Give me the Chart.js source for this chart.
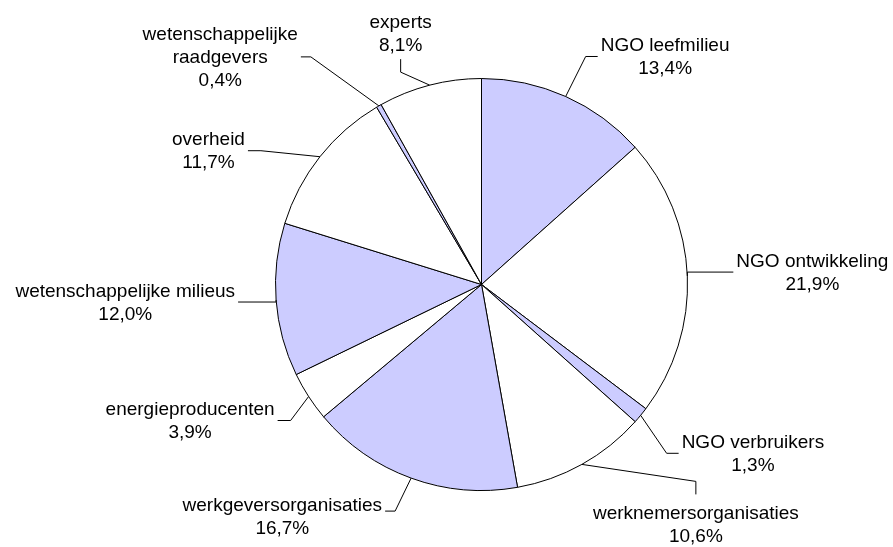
<!DOCTYPE html>
<html>
<head>
<meta charset="utf-8">
<script src="https://cdn.jsdelivr.net/npm/chart.js@4"></script>
<style>
  html, body { margin: 0; padding: 0; background: #fff; }
  #wrap { width: 893px; height: 547px; }
</style>
</head>
<body>
<div id="wrap"><canvas id="pie-chart"></canvas></div>
<script>
// Data

let categories = [
    ['NGO leefmilieu'],
    ['NGO ontwikkeling'],
    ['NGO verbruikers'],
    ['werknemersorganisaties'],
    ['werkgeversorganisaties'],
    ['energieproducenten'],
    ['wetenschappelijke milieus'],
    ['overheid'],
    ['wetenschappelijke', 'raadgevers'],
    ['experts']
];

let shares = [13.4, 21.9, 1.3, 10.6, 16.7, 3.9, 12.0, 11.7, 0.4, 8.1];

// Label layout: elbow offset from the slice edge, then a short tail

let labelLayout = [
    { dx: 20, dy: -40, tail: 'right', len: 12, shift: 0 },
    { dx: 0, dy: -4, tail: 'right', len: 46, shift: 0 },
    { dx: 26, dy: 38, tail: 'right', len: 12, shift: 0 },
    { dx: 114, dy: 17, tail: 'down', len: 13, shift: 2 },
    { dx: -16, dy: 33, tail: 'left', len: 10, shift: 5 },
    { dx: -18, dy: 24, tail: 'left', len: 13, shift: 0 },
    { dx: 0, dy: 2, tail: 'left', len: 38, shift: 0 },
    { dx: -59, dy: -6, tail: 'left', len: 13, shift: 0 },
    { dx: -68, dy: -49, tail: 'left', len: 10, shift: 0 },
    { dx: -29, dy: -13, tail: 'up', len: 13, shift: 2 }
];

let sliceColors = ['#ccccff', '#ffffff'];

function fmt(v) {
    return v.toFixed(1).replace('.', ',') + '%';
}

// Labels plugin

let outsideLabels = {
    id: 'outsideLabels',
    afterDatasetsDraw(chart) {
        let ctx = chart.ctx;
        let arcs = chart.getDatasetMeta(0).data;
        let lineH = 23;
        ctx.save();
        ctx.font = '19px "Liberation Sans", Arial, sans-serif';
        ctx.fillStyle = '#000';
        ctx.strokeStyle = '#000';
        ctx.lineWidth = 1;
        ctx.textAlign = 'center';
        ctx.textBaseline = 'middle';
        arcs.forEach((arc, i) => {
            let p = arc.getProps(['x', 'y', 'startAngle', 'endAngle', 'outerRadius'], true);
            let mid = (p.startAngle + p.endAngle) / 2;
            let ax = p.x + Math.cos(mid) * p.outerRadius;
            let ay = p.y + Math.sin(mid) * p.outerRadius;
            let lay = labelLayout[i];
            let ex = ax + lay.dx, ey = ay + lay.dy;
            let tx = ex, ty = ey;
            if (lay.tail === 'right') tx += lay.len;
            if (lay.tail === 'left') tx -= lay.len;
            if (lay.tail === 'up') ty -= lay.len;
            if (lay.tail === 'down') ty += lay.len;

            ctx.beginPath();
            ctx.moveTo(ax, ay);
            ctx.lineTo(ex, ey);
            ctx.lineTo(tx, ty);
            ctx.stroke();

            let lines = categories[i].concat([fmt(shares[i])]);
            let w = Math.max(...lines.map(s => ctx.measureText(s).width));
            let cx, cy;
            if (lay.tail === 'right') { cx = tx + 3 + w / 2; cy = ty - (lines.length - 1) * lineH / 2; }
            if (lay.tail === 'left') { cx = tx - 3 - w / 2; cy = ty - (lines.length - 1) * lineH / 2; }
            if (lay.tail === 'up') { cx = tx; cy = ty - 16 - (lines.length - 1) * lineH; }
            if (lay.tail === 'down') { cx = tx; cy = ty + 16; }
            cy += lay.shift;
            lines.forEach((s, k) => ctx.fillText(s, cx, cy + k * lineH + 1));
        });
        ctx.restore();
    }
};

let ctx = document.getElementById('pie-chart').getContext('2d');

let pieChart = new Chart(ctx, {
    type: 'pie',
    data: {
        labels: categories.map(c => c.join(' ')),
        datasets: [{
            data: shares,
            backgroundColor: shares.map((v, i) => sliceColors[i % 2]),
            borderColor: '#000',
            borderWidth: 1
        }]
    },
    options: {
        responsive: true,
        maintainAspectRatio: false,
        animation: false,
        events: [],
        layout: {
            padding: { top: 78, bottom: 56, left: 275, right: 205 }
        },
        plugins: {
            legend: { display: false },
            tooltip: { enabled: false }
        }
    },
    plugins: [outsideLabels]
});
</script>
</body>
</html>
